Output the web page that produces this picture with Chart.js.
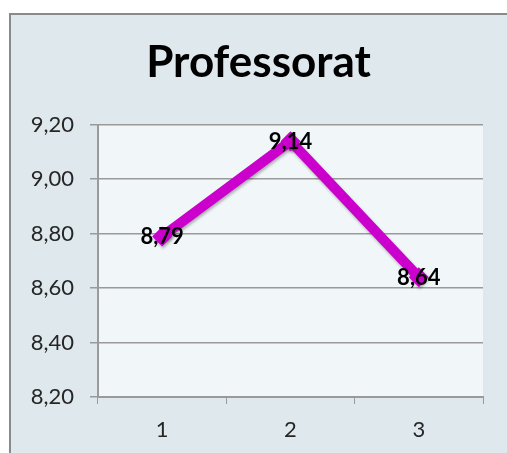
<!DOCTYPE html>
<html>
<head>
<meta charset="utf-8">
<script src="https://cdn.jsdelivr.net/npm/chart.js@4"></script>
<style>
  html, body { margin: 0; padding: 0; background: #fff; }
  #wrap { width: 507px; height: 453px; }
</style>
</head>
<body>
<div id="wrap"><canvas id="line-chart" width="507" height="453"></canvas></div>
<script>
const categories = ['1', '2', '3'];
const values = [8.79, 9.14, 8.64];
const yMin = 8.2, yMax = 9.2, yStep = 0.2;

const fmt = v => v.toFixed(2).replace('.', ',');
const FONT = 'Lato, "Open Sans", sans-serif';

// frame + plot background, Excel style
const frame = {
  id: 'frame',
  beforeDraw(chart) {
    const ctx = chart.ctx, a = chart.chartArea;
    ctx.save();
    ctx.fillStyle = '#ffffff';
    ctx.fillRect(0, 0, chart.width, chart.height);
    ctx.fillStyle = '#dee8ed';
    ctx.fillRect(10, 14, chart.width, chart.height);
    ctx.strokeStyle = '#8a8a8a';
    ctx.lineWidth = 2;
    ctx.strokeRect(10, 14, chart.width + 10, chart.height + 10);
    ctx.fillStyle = '#f1f6f8';
    ctx.fillRect(a.left, a.top, a.right - a.left, a.bottom - a.top);
    ctx.restore();
  },
  beforeDatasetDraw(chart) {
    const ctx = chart.ctx;
    ctx.save();
    ctx.shadowColor = 'rgba(0,0,0,0.3)';
    ctx.shadowBlur = 3;
    ctx.shadowOffsetX = 1;
    ctx.shadowOffsetY = 2;
  },
  afterDatasetDraw(chart) {
    chart.ctx.restore();
  },
  afterDatasetsDraw(chart) {
    const ctx = chart.ctx;
    const meta = chart.getDatasetMeta(0);
    ctx.save();
    ctx.font = 'bold 22px ' + FONT;
    ctx.fillStyle = '#000';
    ctx.textAlign = 'center';
    ctx.textBaseline = 'middle';
    meta.data.forEach((pt, i) => {
      ctx.fillText(fmt(values[i]), pt.x, pt.y + 1);
    });
    ctx.restore();
  }
};

new Chart(document.getElementById('line-chart'), {
  type: 'line',
  data: {
    labels: categories,
    datasets: [{
      data: values,
      borderColor: '#cc00cc',
      backgroundColor: '#cc00cc',
      borderWidth: 10,
      fill: false,
      tension: 0,
      pointStyle: 'rectRot',
      pointRadius: 10,
      pointBorderWidth: 0
    }]
  },
  options: {
    responsive: false,
    animation: false,
    layout: { padding: { left: 0, right: -10, top: 0, bottom: 0 } },
    plugins: {
      legend: { display: false },
      tooltip: { enabled: false },
      title: {
        display: true,
        text: 'Professorat',
        color: '#000',
        font: { family: FONT, size: 44, weight: 'bold', lineHeight: 1.2 },
        padding: { top: 36, bottom: 36 }
      }
    },
    scales: {
      x: {
        offset: true,
        grid: {
          offset: true,
          drawOnChartArea: false,
          color: '#9a9a9a',
          tickLength: 7
        },
        border: { color: '#9a9a9a', width: 2 },
        ticks: {
          color: '#262626',
          padding: 13,
          font: { family: FONT, size: 22 }
        },
        afterFit(s) { s.height = 56; }
      },
      y: {
        min: yMin,
        max: yMax,
        grid: { color: '#9a9a9a', lineWidth: 1.5, tickLength: 8 },
        border: { color: '#9a9a9a', width: 2 },
        ticks: {
          stepSize: yStep,
          color: '#262626',
          padding: 16,
          font: { family: FONT, size: 22 },
          callback: v => fmt(v)
        },
        afterFit(s) { s.width = 98; }
      },
      // empty right-hand spacer so the plot ends where the reference's does
      spacer: {
        type: 'linear',
        position: 'right',
        grid: { display: false },
        border: { display: false },
        ticks: { display: false },
        afterFit(s) { s.width = 34; }
      }
    }
  },
  plugins: [frame]
});
</script>
</body>
</html>
